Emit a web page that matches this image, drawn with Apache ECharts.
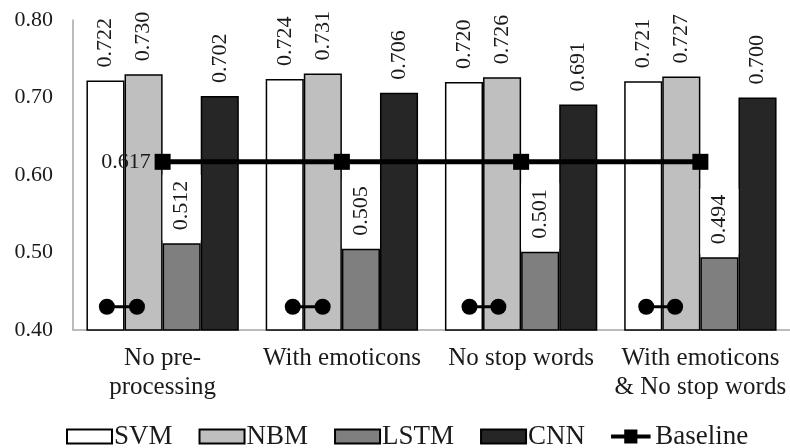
<!DOCTYPE html>
<html>
<head>
<meta charset="utf-8">
<script src="https://cdn.jsdelivr.net/npm/echarts@6/dist/echarts.min.js"></script>
<style>html,body{margin:0;padding:0;background:#fff}#c{width:790px;height:448px}</style>
</head>
<body>
<div id="c"></div>
<script>
const categories = ['No pre-\nprocessing', 'With emoticons', 'No stop words', 'With emoticons\n& No stop words'];
const svm = [0.722, 0.724, 0.720, 0.721];
const nbm = [0.730, 0.731, 0.726, 0.727];
const lstm = [0.512, 0.505, 0.501, 0.494];
const cnn = [0.702, 0.706, 0.691, 0.700];
const baseline = [0.617, 0.617, 0.617, 0.617];
const yTicks = [0.40, 0.50, 0.60, 0.70, 0.80];
// small dumbbell markers: [x position in category units, y value]
const dumbbells = [
  [[0.189, 0.43], [0.357, 0.43]],
  [[1.226, 0.43], [1.393, 0.43]],
  [[2.212, 0.43], [2.373, 0.43]],
  [[3.198, 0.43], [3.359, 0.43]]
];

const FONT = 'Liberation Serif';
const TXT = '#1a1a1a';

function barLabel(bg) {
  return {
    show: true, position: 'top', rotate: 90, align: 'left', verticalAlign: 'middle',
    distance: 3, fontFamily: FONT, fontSize: 22, color: TXT, lineHeight: 22,
    padding: [8, 6, 8, 10], backgroundColor: bg || 'transparent',
    formatter: p => p.value.toFixed(3)
  };
}
function barSeries(name, data, color, bg) {
  return {
    name, type: 'bar', data, barGap: '0%', barCategoryGap: '15%',
    itemStyle: { color, borderColor: '#000', borderWidth: 1.5 },
    label: barLabel(bg), z: 2
  };
}

const series = [
  barSeries('SVM', svm, '#ffffff'),
  barSeries('NBM', nbm, '#bfbfbf'),
  barSeries('LSTM', lstm, '#7f7f7f', '#ffffff'),
  barSeries('CNN', cnn, '#262626'),
  {
    name: 'Baseline', type: 'line', data: baseline, symbol: 'rect', symbolSize: 16,
    lineStyle: { color: '#000', width: 5 }, itemStyle: { color: '#000' }, z: 5,
    label: {
      show: true, position: 'left', distance: 4, fontFamily: FONT, fontSize: 22, color: TXT,
      formatter: p => p.dataIndex === 0 ? p.value.toFixed(3) : ''
    }
  }
].concat(dumbbells.map((d, i) => ({
  name: 'db' + i, type: 'line', xAxisIndex: 1, data: d, symbol: 'circle', symbolSize: 16,
  lineStyle: { color: '#000', width: 3 }, itemStyle: { color: '#000' }, z: 6, silent: true
})));

const chart = echarts.init(document.getElementById('c'));
chart.setOption({
  animation: false,
  backgroundColor: '#fff',
  grid: { left: 73, right: -1, top: 20, bottom: 118, containLabel: false },
  xAxis: [{
    type: 'category', data: categories,
    axisLine: { lineStyle: { color: '#a6a6a6', width: 1.5 } },
    axisTick: { show: false },
    axisLabel: { fontFamily: FONT, fontSize: 25, color: TXT, lineHeight: 29, margin: 14, interval: 0 }
  }, {
    type: 'value', min: 0, max: 4, show: false
  }],
  yAxis: {
    type: 'value', min: yTicks[0], max: yTicks[yTicks.length - 1], interval: 0.1,
    axisLine: { show: true, lineStyle: { color: '#a6a6a6', width: 1.5 } },
    axisTick: { show: false },
    splitLine: { show: false },
    axisLabel: { fontFamily: FONT, fontSize: 22, color: TXT, margin: 20, formatter: v => v.toFixed(2) }
  },
  legend: {
    data: [
      { name: 'SVM', icon: 'rect' },
      { name: 'NBM', icon: 'rect' },
      { name: 'LSTM', icon: 'rect' },
      { name: 'CNN', icon: 'rect' },
      { name: 'Baseline', icon: 'path://M0,6H16V0H32V6H48V11H32V17H16V11H0Z' }
    ],
    left: 61, top: 418, itemWidth: 45, itemHeight: 14, itemGap: 26,
    textStyle: { fontFamily: FONT, fontSize: 27, color: TXT, padding: [0, 0, 0, -3] }
  },
  series
});
</script>
</body>
</html>
